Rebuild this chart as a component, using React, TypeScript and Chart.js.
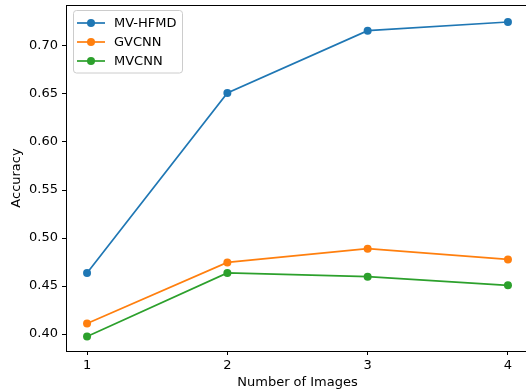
import React, { useEffect, useRef } from "react";
import { Chart, registerables } from "chart.js";

Chart.register(...registerables);

const xValues = [1, 2, 3, 4];
const xTicks = [1, 2, 3, 4];
const yTicks = [0.4, 0.45, 0.5, 0.55, 0.6, 0.65, 0.7];
const seriesNames = ["MV-HFMD", "GVCNN", "MVCNN"];
const mvhfmd = [0.4635, 0.651, 0.716, 0.725];
const gvcnn = [0.411, 0.4746, 0.4889, 0.4777];
const mvcnn = [0.3975, 0.4636, 0.4597, 0.4507];
const colors = ["#1f77b4", "#ff7f0e", "#2ca02c"];

const FONT = "'DejaVu Sans', sans-serif";
const FSIZE = 13;

export default function App() {
  const ref = useRef<HTMLCanvasElement | null>(null);

  useEffect(() => {
    document.body.style.margin = "0";
    const canvas = ref.current;
    if (!canvas) return;
    const allSeries = [mvhfmd, gvcnn, mvcnn];

    const framePlugin = {
      id: "frame",
      afterDatasetsDraw(chart: any) {
        const { ctx, chartArea } = chart;
        ctx.save();
        ctx.strokeStyle = "#000";
        ctx.lineWidth = 1;
        ctx.strokeRect(
          Math.round(chartArea.left) + 0.5,
          Math.round(chartArea.top) + 0.5,
          Math.round(chartArea.right - chartArea.left),
          Math.round(chartArea.bottom - chartArea.top)
        );
        ctx.restore();
      },
      afterDraw(chart: any) {
        const { ctx } = chart;
        ctx.save();
        const bx = 73.5, by = 10.5, bw = 109, bh = 62.5;
        ctx.beginPath();
        (ctx as any).roundRect(bx, by, bw, bh, 3);
        ctx.fillStyle = "rgba(255,255,255,0.8)";
        ctx.fill();
        ctx.strokeStyle = "#cccccc";
        ctx.lineWidth = 1;
        ctx.stroke();
        const rows = [23, 42, 61];
        seriesNames.forEach((name, i) => {
          const y = rows[i];
          ctx.strokeStyle = colors[i];
          ctx.lineWidth = 1.7;
          ctx.beginPath();
          ctx.moveTo(77, y);
          ctx.lineTo(105, y);
          ctx.stroke();
          ctx.fillStyle = colors[i];
          ctx.beginPath();
          ctx.arc(91, y, 4, 0, Math.PI * 2);
          ctx.fill();
          ctx.fillStyle = "#000";
          ctx.font = `${FSIZE}px ${FONT}`;
          ctx.textBaseline = "middle";
          ctx.textAlign = "left";
          ctx.fillText(name, 114, y + 0.5);
        });
        ctx.restore();
      },
    };

    const chart = new Chart(canvas, {
      type: "line",
      data: {
        datasets: allSeries.map((s, i) => ({
          label: seriesNames[i],
          data: s.map((v, j) => ({ x: xValues[j], y: v })),
          borderColor: colors[i],
          backgroundColor: colors[i],
          pointBackgroundColor: colors[i],
          pointBorderWidth: 0,
          pointRadius: 4,
          borderWidth: 1.7,
          tension: 0,
          fill: false,
        })),
      },
      options: {
        animation: false,
        responsive: false,
        events: [],
        layout: { padding: { top: 5, left: 0, right: 1, bottom: 0 } },
        plugins: {
          legend: { display: false },
          tooltip: { enabled: false },
        },
        scales: {
          x: {
            type: "linear",
            min: 0.85,
            max: 4.15,
            afterBuildTicks: (axis: any) => {
              axis.ticks = xTicks.map((v) => ({ value: v }));
            },
            afterFit: (axis: any) => {
              axis.height = 40;
              axis.paddingLeft = 0;
              axis.paddingRight = 0;
            },
            grid: { drawOnChartArea: false, drawTicks: true, tickLength: 4, color: "#000", tickWidth: 1 },
            border: { display: false },
            ticks: { color: "#000", font: { family: FONT, size: FSIZE }, padding: 3, maxRotation: 0 },
            title: { display: true, text: "Number of Images", color: "#000", font: { family: FONT, size: FSIZE }, padding: { top: 0, bottom: 1 } },
          },
          y: {
            type: "linear",
            min: 0.3823,
            max: 0.7427,
            afterBuildTicks: (axis: any) => {
              axis.ticks = yTicks.map((v) => ({ value: v }));
            },
            afterFit: (axis: any) => {
              axis.width = 66;
              axis.paddingTop = 0;
              axis.paddingBottom = 0;
            },
            grid: { drawOnChartArea: false, drawTicks: true, tickLength: 4, color: "#000", tickWidth: 1 },
            border: { display: false },
            ticks: { color: "#000", font: { family: FONT, size: FSIZE }, padding: 4, callback: (v: any) => Number(v).toFixed(2) },
            title: { display: true, text: "Accuracy", color: "#000", font: { family: FONT, size: FSIZE }, padding: { top: 9, bottom: 0 } },
          },
        },
      },
      plugins: [framePlugin],
    } as any);

    return () => chart.destroy();
  }, []);

  return (
    <div style={{ width: 526, height: 391, overflow: "hidden", background: "#fff" }}>
      <canvas ref={ref} width={533} height={391} style={{ display: "block" }} />
    </div>
  );
}
